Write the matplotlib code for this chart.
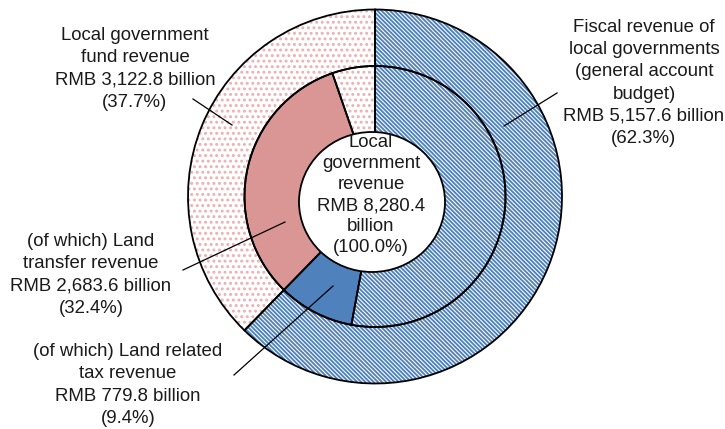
import matplotlib.pyplot as plt
from matplotlib.patches import Ellipse

plt.rcParams['font.family'] = ['Liberation Sans', 'DejaVu Sans']
plt.rcParams['hatch.linewidth'] = 1.35

# shares of local government revenue (%)
outer_share = [62.3, 37.7]            # general account budget, fund revenue
inner_share = [52.9, 9.4, 32.4, 5.3]  # other budget, land tax, land transfer, other fund

labels = {
    'fiscal': 'Fiscal revenue of\nlocal governments\n(general account\nbudget)\nRMB 5,157.6 billion\n(62.3%)',
    'fund': 'Local government\nfund revenue\nRMB 3,122.8 billion\n(37.7%)',
    'transfer': '(of which) Land\ntransfer revenue\nRMB 2,683.6 billion\n(32.4%)',
    'tax': '(of which) Land related\ntax revenue\nRMB 779.8 billion\n(9.4%)',
    'total': 'Local\ngovernment\nrevenue\nRMB 8,280.4\nbillion\n(100.0%)',
}

blue = '#4F81BD'
pink = '#D99694'
dot = '#EBB0B0'
stripes = '\\' * 8
dots = '...'

W, H = 725, 429
fig = plt.figure(figsize=(W / 100, H / 100), dpi=100)
ax = fig.add_axes([0, 0, 1, 1])

cx, cy = 375, H - 196.5
r_out, r_in, r_hole = 187, 130.5, 55

# outer ring
wo, _ = ax.pie(outer_share, radius=r_out, center=(cx, cy), startangle=90,
               counterclock=False, colors=['white', 'white'],
               wedgeprops=dict(width=r_out - r_in, linewidth=0))
wo[0].set_hatch(stripes)
wo[0].set_edgecolor(blue)
wo[1].set_hatch(dots)
wo[1].set_edgecolor(dot)

# inner ring
wi, _ = ax.pie(inner_share, radius=r_in, center=(cx, cy), startangle=90,
               counterclock=False, colors=['white', blue, pink, 'white'],
               wedgeprops=dict(width=r_in - r_hole, linewidth=0))
wi[0].set_hatch(stripes)
wi[0].set_edgecolor(blue)
wi[3].set_hatch(dots)
wi[3].set_edgecolor(dot)

# black outlines on top of the fills
for vals, r, width in [(outer_share, r_out, r_out - r_in),
                       (inner_share, r_in, r_in - r_hole)]:
    ax.pie(vals, radius=r, center=(cx, cy), startangle=90, counterclock=False,
           wedgeprops=dict(width=width, facecolor='none', edgecolor='black',
                           linewidth=1.3))

ax.add_patch(Ellipse((372, H - 202), 146, 140, facecolor='white',
                     edgecolor='black', linewidth=1.3, zorder=5))

# leader lines
leaders = [
    ((557, 93), (504, 126)),
    ((193, 99), (232, 125)),
    ((183, 270), (285, 222)),
    ((234, 375), (333, 286)),
]
for (x0, y0), (x1, y1) in leaders:
    ax.plot([x0, x1], [H - y0, H - y1], color='black', linewidth=0.9, zorder=6)

fs = 13.4
txt = dict(ha='center', va='center', fontsize=fs, color='#1a1a1a',
           linespacing=1.4, multialignment='center', zorder=7)
ax.text(644, H - 83, labels['fiscal'], **txt)
ax.text(135, H - 69, labels['fund'], **txt)
ax.text(91, H - 275, labels['transfer'], **txt)
ax.text(128, H - 385, labels['tax'], **txt)
ax.text(371, H - 195, labels['total'], **dict(txt, linespacing=1.31))

ax.set_xlim(0, W)
ax.set_ylim(0, H)
ax.set_aspect('equal')
ax.axis('off')

fig.savefig('out.png', dpi=100)
